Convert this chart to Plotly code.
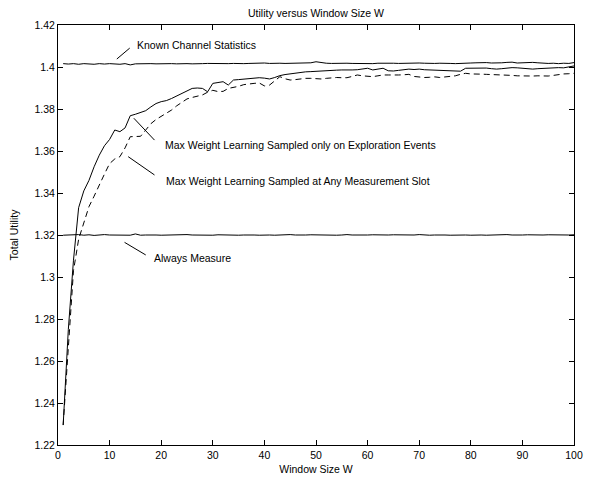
import plotly.graph_objects as go

W = list(range(1, 101))

known_stats = [
    1.4016, 1.4014, 1.4016, 1.4013, 1.4016, 1.4015, 1.4013, 1.4016, 1.4014, 1.4016,
    1.4015, 1.4013, 1.4016, 1.4010, 1.4015, 1.4016, 1.4014, 1.4016, 1.4015, 1.4016,
    1.4017, 1.4016, 1.4015, 1.4017, 1.4016, 1.4015, 1.4017, 1.4016, 1.4017, 1.4016,
    1.4015, 1.4017, 1.4016, 1.4017, 1.4015, 1.4016, 1.4017, 1.4018, 1.4016, 1.4019,
    1.4017, 1.4019, 1.4018, 1.4017, 1.4018, 1.4017, 1.4018, 1.4019, 1.4020, 1.4025,
    1.4020, 1.4018, 1.4017, 1.4018, 1.4017, 1.4018, 1.4017, 1.4016, 1.4018, 1.4017,
    1.4016, 1.4018, 1.4019, 1.4017, 1.4018, 1.4017, 1.4018, 1.4017, 1.4018, 1.4019,
    1.4018, 1.4016, 1.4017, 1.4018, 1.4019, 1.4017, 1.4016, 1.4018, 1.4017, 1.4019,
    1.4020, 1.4022, 1.4021, 1.4019, 1.4018, 1.4020, 1.4022, 1.4023, 1.4019, 1.4020,
    1.4023, 1.4022, 1.4020, 1.4018, 1.4017, 1.4018, 1.4016, 1.4018, 1.4017, 1.4021,
]

mw_exploration = [
    1.2295, 1.2750, 1.3080, 1.3330, 1.3410, 1.3460, 1.3525, 1.3580, 1.3625, 1.3655,
    1.3700, 1.3692, 1.3710, 1.3768, 1.3775, 1.3782, 1.3792, 1.3810, 1.3826, 1.3835,
    1.3840, 1.3850, 1.3862, 1.3875, 1.3888, 1.3898, 1.3900, 1.3898, 1.3882, 1.3922,
    1.3926, 1.3930, 1.3914, 1.3938, 1.3940, 1.3942, 1.3944, 1.3946, 1.3949, 1.3947,
    1.3943, 1.3950, 1.3959, 1.3964, 1.3968, 1.3971, 1.3974, 1.3977, 1.3978, 1.3980,
    1.3982, 1.3983, 1.3984, 1.3985, 1.3986, 1.3985, 1.3986, 1.3987, 1.3992, 1.3994,
    1.3986, 1.3989, 1.3994, 1.3982, 1.3981, 1.3984, 1.3987, 1.3990, 1.3988, 1.3990,
    1.3987, 1.3986, 1.3986, 1.3984, 1.3982, 1.3981, 1.3981, 1.3980, 1.3994, 1.3995,
    1.3996, 1.3997, 1.3995, 1.3992, 1.3990, 1.3992, 1.3995, 1.3997, 1.3996, 1.3993,
    1.3991, 1.3990, 1.3992, 1.3994, 1.3994, 1.3995, 1.3997, 1.3996, 1.3999, 1.4005,
]

mw_any_slot = [
    1.2295, 1.2680, 1.3030, 1.3180, 1.3257, 1.3335, 1.3385, 1.3440, 1.3490, 1.3540,
    1.3562, 1.3573, 1.3615, 1.3668, 1.3668, 1.3670, 1.3700, 1.3730, 1.3750, 1.3765,
    1.3780, 1.3795, 1.3815, 1.3830, 1.3848, 1.3855, 1.3862, 1.3867, 1.3880, 1.3889,
    1.3883, 1.3884, 1.3898, 1.3902, 1.3908, 1.3916, 1.3920, 1.3922, 1.3924, 1.3910,
    1.3914, 1.3935, 1.3954, 1.3944, 1.3938, 1.3940, 1.3944, 1.3946, 1.3946, 1.3944,
    1.3943, 1.3946, 1.3949, 1.3950, 1.3949, 1.3949, 1.3955, 1.3962, 1.3958, 1.3955,
    1.3954, 1.3958, 1.3962, 1.3962, 1.3961, 1.3962, 1.3963, 1.3965, 1.3955, 1.3952,
    1.3950, 1.3951, 1.3953, 1.3950, 1.3952, 1.3954, 1.3958, 1.3965, 1.3970, 1.3967,
    1.3965, 1.3966, 1.3965, 1.3964, 1.3966, 1.3965, 1.3963, 1.3960, 1.3958, 1.3957,
    1.3956, 1.3957, 1.3958, 1.3956, 1.3957, 1.3960, 1.3964, 1.3967, 1.3968, 1.3970,
]

always_measure = [
    1.3199, 1.3201, 1.3200, 1.3202, 1.3199, 1.3201, 1.3198, 1.3200, 1.3202, 1.3200,
    1.3199, 1.3200, 1.3198, 1.3199, 1.3205, 1.3199, 1.3200, 1.3201, 1.3200, 1.3199,
    1.3200, 1.3201, 1.3199, 1.3200, 1.3202, 1.3200, 1.3199, 1.3201, 1.3200, 1.3199,
    1.3201, 1.3200, 1.3202, 1.3200, 1.3199, 1.3200, 1.3201, 1.3200, 1.3199, 1.3201,
    1.3200, 1.3199, 1.3201, 1.3200, 1.3202, 1.3200, 1.3199, 1.3200, 1.3201, 1.3200,
    1.3199, 1.3201, 1.3200, 1.3199, 1.3200, 1.3202, 1.3200, 1.3199, 1.3201, 1.3200,
    1.3201, 1.3200, 1.3199, 1.3200, 1.3201, 1.3200, 1.3199, 1.3201, 1.3200, 1.3202,
    1.3200, 1.3199, 1.3200, 1.3201, 1.3200, 1.3199, 1.3200, 1.3201, 1.3200, 1.3199,
    1.3201, 1.3200, 1.3199, 1.3200, 1.3201, 1.3200, 1.3202, 1.3200, 1.3199, 1.3200,
    1.3201, 1.3200, 1.3199, 1.3200, 1.3201, 1.3200, 1.3199, 1.3201, 1.3200, 1.3201,
]

x_ticks = [0, 10, 20, 30, 40, 50, 60, 70, 80, 90, 100]
y_ticks = [1.22, 1.24, 1.26, 1.28, 1.30, 1.32, 1.34, 1.36, 1.38, 1.40, 1.42]
y_tick_labels = ["1.22", "1.24", "1.26", "1.28", "1.3", "1.32", "1.34", "1.36", "1.38", "1.4", "1.42"]

# annotation labels: (text, text_x, text_y, leader_x0, leader_y0, leader_x1, leader_y1)
labels = [
    ("Known Channel Statistics", 14.9, 1.4105, 11.4, 1.4038, 13.9, 1.4090),
    ("Max Weight Learning Sampled only on Exploration Events", 20.3, 1.3629, 14.7, 1.3756, 18.7, 1.3652),
    ("Max Weight Learning Sampled at Any Measurement Slot", 20.5, 1.3457, 13.6, 1.3573, 18.7, 1.3486),
    ("Always Measure", 18.3, 1.3090, 12.9, 1.3165, 17.0, 1.3105),
]

FONT = "Liberation Sans, Arial, Helvetica, sans-serif"
line_style = dict(color="black", width=1)

fig = go.Figure()
fig.add_trace(go.Scatter(x=W, y=known_stats, mode="lines", line=line_style, name="Known Channel Statistics"))
fig.add_trace(go.Scatter(x=W, y=mw_exploration, mode="lines", line=line_style, name="MW exploration"))
fig.add_trace(go.Scatter(x=W, y=mw_any_slot, mode="lines", line=dict(color="black", width=1, dash="6px,4px"), name="MW any slot"))
fig.add_trace(go.Scatter(x=W, y=always_measure, mode="lines", line=line_style, name="Always Measure"))

for text, tx, ty, x0, y0, x1, y1 in labels:
    fig.add_shape(type="line", x0=x0, y0=y0, x1=x1, y1=y1, xref="x", yref="y",
                  line=dict(color="black", width=1))
    fig.add_annotation(x=tx, y=ty, xref="x", yref="y", text=text, showarrow=False,
                       xanchor="left", yanchor="middle", font=dict(size=10.5, color="black", family=FONT))

axis_common = dict(
    showline=True, linecolor="black", linewidth=1, mirror="allticks",
    ticks="inside", ticklen=5, tickcolor="black", showgrid=False, zeroline=False,
    tickfont=dict(size=10.5, color="black", family=FONT),
)

fig.update_layout(
    width=596, height=477,
    margin=dict(l=50, r=30, t=17, b=40, autoexpand=False),
    paper_bgcolor="white", plot_bgcolor="white",
    showlegend=False,
    font=dict(family=FONT, color="black", size=10),
    title=dict(text="Utility versus Window Size W", x=(308 / 596), xanchor="center",
               y=1 - 5 / 477, yanchor="middle",
               font=dict(size=10.5, color="black", family=FONT)),
    xaxis=dict(range=[0, 100], tickvals=x_ticks,
               title=dict(text="Window Size W", standoff=6, font=dict(size=10.5, color="black", family=FONT)),
               **axis_common),
    yaxis=dict(range=[1.22, 1.42], tickvals=y_ticks, ticktext=y_tick_labels,
               title=dict(text="Total Utility", standoff=14, font=dict(size=10.5, color="black", family=FONT)),
               **axis_common),
)

fig.write_html("out.html")
